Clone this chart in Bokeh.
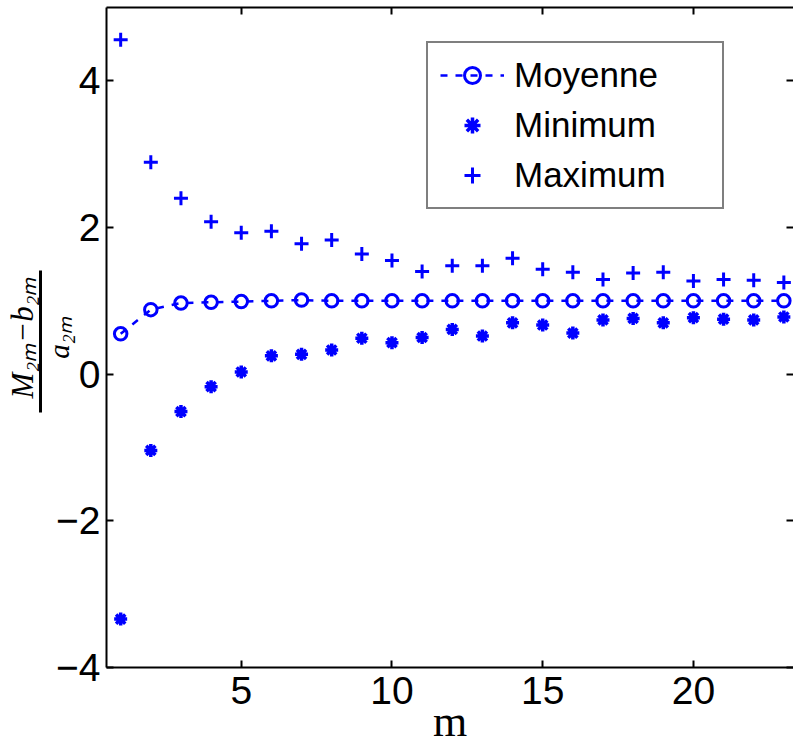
from bokeh.plotting import figure
from bokeh.models import (Range1d, LinearAxis, FixedTicker, Legend, LegendItem)
from bokeh.embed import file_html
from bokeh.resources import INLINE

# ---------------- data ----------------
m = list(range(1, 24))
moyenne = [0.55, 0.88, 0.97, 0.98, 0.99, 1.00, 1.01, 1.00, 1.00, 1.00, 1.00, 1.00,
           1.00, 1.00, 1.00, 1.00, 1.00, 1.00, 1.00, 1.00, 1.00, 1.00, 1.00]
minimum = [-3.34, -1.04, -0.51, -0.17, 0.03, 0.25, 0.27, 0.33, 0.49, 0.43, 0.50, 0.61,
           0.52, 0.70, 0.67, 0.56, 0.74, 0.76, 0.70, 0.77, 0.75, 0.74, 0.78]
maximum = [4.56, 2.89, 2.40, 2.08, 1.93, 1.95, 1.78, 1.83, 1.64, 1.55, 1.40, 1.48,
           1.48, 1.58, 1.43, 1.39, 1.29, 1.38, 1.39, 1.27, 1.29, 1.28, 1.25]
x_ticks = [5, 10, 15, 20]
y_ticks = [-4, -2, 0, 2, 4]
y_tick_labels = {-4: "\u22124", -2: "\u22122", 0: "0", 2: "2", 4: "4"}
legend_labels = ["Moyenne", "Minimum", "Maximum"]
x_label = "m"
y_label_num = "M\u2082\u2098\u2212b\u2082\u2098"
y_label_den = "a\u2082\u2098"
fraction_bar_span = (-0.52, 1.41)   # extent of the fraction bar along the y axis

BLUE = "#0000ff"
SANS = "Liberation Sans"
SERIF = "Liberation Serif"

p = figure(width=793, height=748, output_backend="svg", toolbar_location=None,
           x_range=Range1d(0.53, 23.32), y_range=Range1d(-4, 5),
           min_border_left=106, min_border_right=0, min_border_top=7,
           min_border_bottom=81)
p.outline_line_color = None
p.grid.visible = False
p.background_fill_color = "white"
p.border_fill_color = "white"


def style_axis(ax, ticks, show_labels, line=True):
    ax.ticker = FixedTicker(ticks=ticks)
    ax.axis_line_width = 2
    ax.axis_line_color = "black" if line else None
    ax.major_tick_in = 7
    ax.major_tick_out = 0
    ax.major_tick_line_width = 2
    ax.major_tick_line_color = "black"
    ax.minor_tick_line_color = None
    if show_labels:
        ax.major_label_text_font = SANS
        ax.major_label_text_font_size = "39px"
        ax.major_label_text_color = "black"
    else:
        ax.major_label_text_font_size = "1px"
        ax.major_label_text_color = None
        ax.major_label_standoff = 0


# bottom axis with the "m" label
xa = p.xaxis[0]
style_axis(xa, x_ticks, True)
xa.major_label_standoff = 9
xa.axis_label = x_label
xa.axis_label_text_font = SERIF
xa.axis_label_text_font_style = "normal"
xa.axis_label_text_font_size = "44px"
xa.axis_label_text_color = "black"
xa.axis_label_standoff = -10

# left axis: ticks + denominator of the fraction
ya = p.yaxis[0]
style_axis(ya, y_ticks, True)
ya.major_label_standoff = 6
ya.major_label_overrides = y_tick_labels
ya.axis_label = y_label_den
ya.axis_label_text_font = SERIF
ya.axis_label_text_font_style = "italic"
ya.axis_label_text_font_size = "29px"
ya.axis_label_text_color = "black"
ya.axis_label_standoff = -22

# outer left axis: its line is the fraction bar, its label the numerator
frac = LinearAxis(bounds=fraction_bar_span)
frac.ticker = FixedTicker(ticks=[])
frac.major_tick_in = 0
frac.major_tick_out = 0
frac.minor_tick_line_color = None
frac.major_label_text_font_size = "1px"
frac.major_label_text_color = None
frac.major_label_standoff = 0
frac.axis_line_width = 3
frac.axis_line_color = "black"
frac.axis_label = y_label_num
frac.axis_label_text_font = SERIF
frac.axis_label_text_font_style = "italic"
frac.axis_label_text_font_size = "31px"
frac.axis_label_text_color = "black"
frac.axis_label_standoff = 1
p.add_layout(frac, "left")

top_ax = LinearAxis()
style_axis(top_ax, x_ticks, False)
p.add_layout(top_ax, "above")
right_ax = LinearAxis()
style_axis(right_ax, y_ticks, False, line=False)
p.add_layout(right_ax, "right")

# ---------------- series ----------------
r_line = p.line(m, moyenne, line_color=BLUE, line_width=2.5, line_dash="7 8")
r_circ = p.scatter(m, moyenne, marker="circle", size=12.5, fill_color=None,
                   line_color=BLUE, line_width=3)
r_min = p.scatter(m, minimum, marker="asterisk", size=13, line_color=BLUE,
                  line_width=3.5)
r_max = p.scatter(m, maximum, marker="cross", size=14, line_color=BLUE,
                  line_width=3)

legend = Legend(items=[
    LegendItem(label=legend_labels[0], renderers=[r_line, r_circ]),
    LegendItem(label=legend_labels[1], renderers=[r_min]),
    LegendItem(label=legend_labels[2], renderers=[r_max]),
], location=(320, 458))
legend.label_text_font = SANS
legend.label_text_font_size = "35px"
legend.label_text_color = "black"
legend.glyph_width = 64
legend.glyph_height = 40
legend.label_height = 40
legend.label_width = 196
legend.label_standoff = 10
legend.spacing = 10
legend.padding = 12
legend.margin = 0
legend.border_line_color = "black"
legend.border_line_width = 2
legend.background_fill_color = "white"
legend.background_fill_alpha = 1.0
p.add_layout(legend)

open("out.html", "w").write(file_html(p, INLINE))
